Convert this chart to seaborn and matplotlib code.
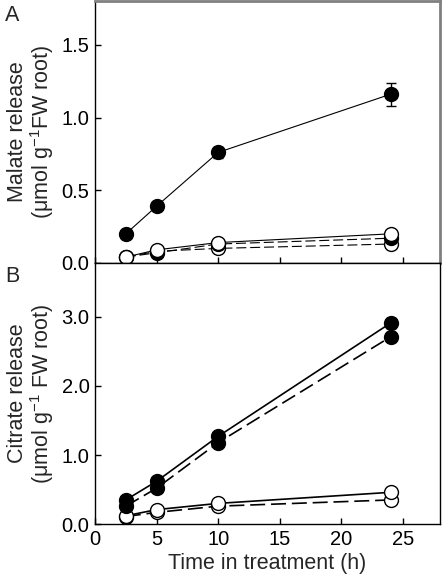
import matplotlib
matplotlib.use("Agg")
import matplotlib.pyplot as plt
import seaborn as sns
import pandas as pd

# time points (h)
time_h = [2.5, 5, 10, 24]

# Malate release (umol g-1 FW root)
malate_filled_solid = [0.20, 0.39, 0.76, 1.16]
malate_filled_solid_err = [0.01, 0.02, 0.04, 0.08]
malate_filled_dashed = [0.04, 0.07, 0.13, 0.17]
malate_open_solid = [0.04, 0.09, 0.14, 0.20]
malate_open_dashed = [0.04, 0.08, 0.10, 0.13]
malate_small_err = [0.01, 0.01, 0.01, 0.02]

# Citrate release (umol g-1 FW root)
citrate_filled_solid = [0.35, 0.62, 1.27, 2.91]
citrate_filled_solid_err = [0.03, 0.04, 0.05, 0.07]
citrate_filled_dashed = [0.26, 0.52, 1.18, 2.71]
citrate_filled_dashed_err = [0.03, 0.04, 0.05, 0.06]
citrate_open_solid = [0.12, 0.21, 0.30, 0.46]
citrate_open_dashed = [0.11, 0.17, 0.26, 0.35]
citrate_small_err = [0.01, 0.01, 0.02, 0.03]

sns.set_theme(style="ticks")
plt.rcParams['font.family'] = ['Liberation Sans', 'DejaVu Sans']
plt.rcParams['mathtext.fontset'] = 'custom'
plt.rcParams['mathtext.rm'] = 'Liberation Sans'

FS_TICK = 14.5
FS_LAB = 15.5
DASH = (0, (9, 3.5))

fig = plt.figure(figsize=(4.42, 5.83), dpi=100)
axA = fig.add_axes([0.215, 0.549, 0.78, 0.449])
axB = fig.add_axes([0.215, 0.101, 0.78, 0.448])


def draw(ax, y, err, filled, dashed, lw):
    df = pd.DataFrame({'t': time_h, 'v': y})
    sns.lineplot(data=df, x='t', y='v', ax=ax, color='black', lw=lw,
                 linestyle=DASH if dashed else '-',
                 marker='o', markersize=10, markeredgewidth=1,
                 markerfacecolor='black' if filled else 'white',
                 markeredgecolor='black')
    ax.errorbar(time_h, y, yerr=err, fmt='none', ecolor='black',
                elinewidth=1, capsize=3.5, capthick=1, zorder=1)


# Panel A
draw(axA, malate_open_dashed, malate_small_err, False, True, 0.8)
draw(axA, malate_filled_dashed, malate_small_err, True, True, 0.8)
draw(axA, malate_open_solid, malate_small_err, False, False, 0.8)
draw(axA, malate_filled_solid, malate_filled_solid_err, True, False, 0.8)

# Panel B
draw(axB, citrate_open_dashed, citrate_small_err, False, True, 1.2)
draw(axB, citrate_open_solid, citrate_small_err, False, False, 1.2)
draw(axB, citrate_filled_dashed, citrate_filled_dashed_err, True, True, 1.2)
draw(axB, citrate_filled_solid, citrate_filled_solid_err, True, False, 1.2)

for ax in (axA, axB):
    ax.set_xlim(0, 28)
    ax.set_xticks([0, 5, 10, 15, 20, 25])
    ax.tick_params(direction='in', length=4, width=1, labelsize=FS_TICK,
                   colors='black', pad=4)
    for s in ax.spines.values():
        s.set_color('black')
        s.set_linewidth(1)

axA.set_ylim(0, 1.8)
axA.set_yticks([0.0, 0.5, 1.0, 1.5])
axA.set_yticklabels(['0.0', '0.5', '1.0', '1.5'])
axA.set_xticklabels([])
axA.set_xlabel('')
axA.set_ylabel('Malate release\n(μmol g$^{-1}$FW root)', fontsize=FS_LAB,
               labelpad=4, linespacing=1.0)
axA.spines['top'].set_color('#808080')
axA.spines['right'].set_color('#808080')
axA.spines['top'].set_linewidth(2)
axA.spines['right'].set_linewidth(2)

axB.set_ylim(0, 3.78)
axB.set_yticks([0.0, 1.0, 2.0, 3.0])
axB.set_yticklabels(['0.0', '1.0', '2.0', '3.0'])
axB.set_xticklabels(['0', '5', '10', '15', '20', '25'])
axB.set_xlabel('Time in treatment (h)', fontsize=FS_LAB, labelpad=3)
axB.set_ylabel('Citrate release\n(μmol g$^{-1}$ FW root)', fontsize=FS_LAB,
               labelpad=4, linespacing=1.0)

fig.text(0.012, 0.974, 'A', fontsize=FS_LAB, ha='left', va='center')
fig.text(0.012, 0.525, 'B', fontsize=FS_LAB, ha='left', va='center')

fig.savefig('out.png', dpi=100)
